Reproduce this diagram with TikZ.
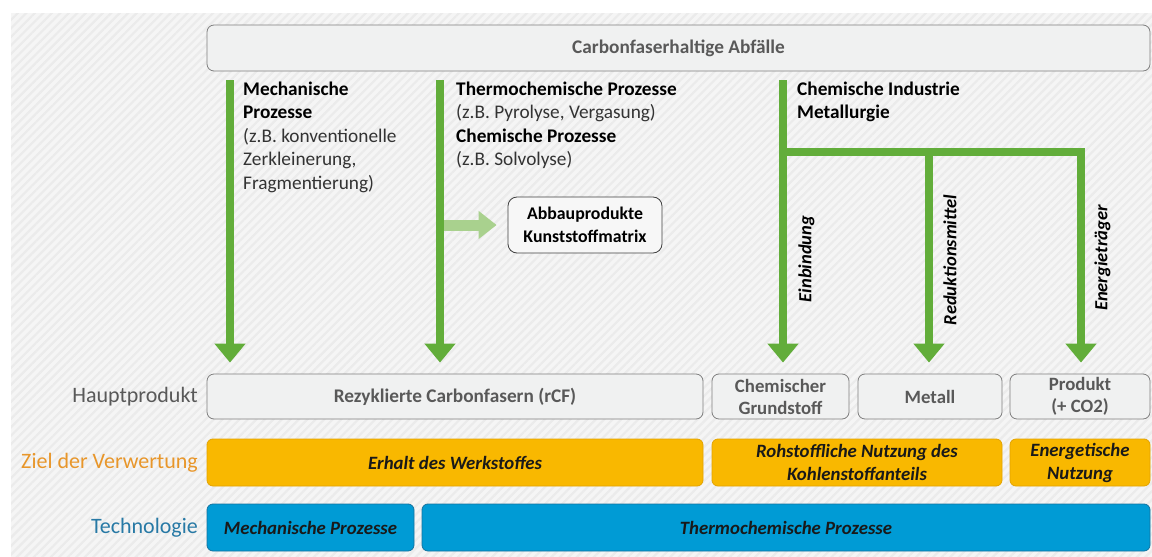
\documentclass[tikz,border=0pt]{standalone}
\usepackage{fontspec}
\setmainfont{Carlito}
\usetikzlibrary{arrows.meta,patterns.meta}
\definecolor{gruen}{HTML}{62AD3A}
\definecolor{hellgruen}{HTML}{A9D18E}
\definecolor{boxgrau}{HTML}{F0F1F1}
\definecolor{randgrau}{HTML}{7F7F7F}
\definecolor{textgrau}{HTML}{595959}
\definecolor{gelb}{HTML}{F9B800}
\definecolor{gelbrand}{HTML}{E3A300}
\definecolor{zielorange}{HTML}{E8962A}
\definecolor{blau}{HTML}{009BD5}
\definecolor{blaurand}{HTML}{14739F}
\definecolor{techblau}{HTML}{2779A5}

\begin{document}
\begin{tikzpicture}[x=1pt,y=-1pt,
	pfeil/.style={line width=8pt,gruen,-{Triangle[length=19pt,width=30pt]}},
	hellpfeil/.style={line width=11pt,hellgruen,-{Triangle[length=18pt,width=27pt]}},
	grauebox/.style={draw=randgrau,fill=boxgrau,rounded corners=7pt,line width=0.8pt,inner sep=0pt,
		text=textgrau,align=center,font=\fontsize{18.8}{22}\selectfont\bfseries},
	gelbebox/.style={draw=gelbrand,fill=gelb,rounded corners=6pt,line width=0.8pt,inner sep=0pt,
		text=black!90,align=center,font=\fontsize{18.8}{23}\selectfont\bfseries\itshape},
	blauebox/.style={draw=blaurand,fill=blau,rounded corners=6pt,line width=0.8pt,inner sep=0pt,
		text=black!90,font=\fontsize{18.8}{23}\selectfont\bfseries\itshape},
	zeile/.style={anchor=east,inner sep=0pt,font=\fontsize{22}{26}\selectfont},
	prozess/.style={anchor=base west,inner sep=0pt,align=left,text=black!80,
		font=\fontsize{19.3}{23.5}\selectfont},
	drehtext/.style={rotate=90,inner sep=0pt,font=\fontsize{18.5}{22}\selectfont\bfseries\itshape}]
	\useasboundingbox (0,0) rectangle (1152,557);
	
	%background
	\fill[black!4] (11,13) rectangle (1152,557);
	\fill[pattern={Lines[angle=45,distance=6pt,line width=2.2pt]},pattern color=black!8] (11,13) rectangle (1152,557);
	
	%top box
	\node[grauebox,minimum width=943pt,minimum height=46pt,font=\fontsize{19.3}{22}\selectfont\bfseries] (abfall) at (678.5,48) {Carbonfaserhaltige Abfälle};
	
	%products
	\node[grauebox,minimum width=496pt,minimum height=45pt,font=\fontsize{19.3}{22}\selectfont\bfseries] (rcf) at (455,396.5) {Rezyklierte Carbonfasern (rCF)};
	\node[grauebox,minimum width=137pt,minimum height=45pt] (chem) at (780.5,396.5) {Chemischer\\Grundstoff};
	\node[grauebox,minimum width=144pt,minimum height=45pt] (metall) at (930,396.5) {Metall};
	\node[grauebox,minimum width=140pt,minimum height=45pt] (produkt) at (1080,396.5) {Produkt\\(+ CO2)};
	
	%goals
	\node[gelbebox,minimum width=496pt,minimum height=47pt] (erhalt) at (455,462.5) {Erhalt des Werkstoffes};
	\node[gelbebox,minimum width=290pt,minimum height=47pt] (rohstoff) at (857,462.5) {Rohstoffliche Nutzung des\\Kohlenstoffanteils};
	\node[gelbebox,minimum width=140pt,minimum height=47pt] (energie) at (1080,462.5) {Energetische\\Nutzung};
	
	%technology
	\node[blauebox,minimum width=207pt,minimum height=47pt] (mech) at (310.5,527.5) {Mechanische Prozesse};
	\node[blauebox,minimum width=728pt,minimum height=47pt] (thermo) at (786,527.5) {Thermochemische Prozesse};
	
	%row labels
	\node[zeile,text=textgrau] (lhaupt) at (198,396.5) {Hauptprodukt};
	\node[zeile,text=zielorange] (lziel) at (198,462.5) {Ziel der Verwertung};
	\node[zeile,text=techblau] (ltech) at (198,527.5) {Technologie};
	
	%process texts (anchored at the last baseline)
	\node[prozess] (tmech) at (243,189) {\textbf{\color{black}Mechanische}\\\textbf{\color{black}Prozesse}\\(z.B. konventionelle\\Zerkleinerung,\\Fragmentierung)};
	\node[prozess] (tthermo) at (456,165.5) {\textbf{\color{black}Thermochemische Prozesse}\\(z.B. Pyrolyse, Vergasung)\\\textbf{\color{black}Chemische Prozesse}\\(z.B. Solvolyse)};
	\node[prozess,text=black,font=\fontsize{19.3}{23.5}\selectfont\bfseries] (tchem) at (797,118.5) {Chemische Industrie\\Metallurgie};
	
	%side product
	\node[draw=black!75,fill=black!3,rounded corners=9pt,line width=0.8pt,minimum width=154pt,minimum height=56pt,
		inner sep=0pt,align=center,font=\fontsize{17.8}{23}\selectfont\bfseries] (abbau) at (585,225) {Abbauprodukte\\Kunststoffmatrix};
	
	%x positions of the arrows
	\coordinate (xm) at (230,0);
	\coordinate (xt) at (440,0);
	\coordinate (xc) at (783,0);
	\coordinate (xr) at (929,0);
	\coordinate (xe) at (1081,0);
	\coordinate (yb) at (0,152);
	
	%arrows
	\draw[hellpfeil,shorten <=4pt,shorten >=11pt] (xt |- abbau.west) -- (abbau.west);
	\draw[pfeil,shorten <=9pt,shorten >=11pt] (abfall.south -| xm) -- (rcf.north -| xm);
	\draw[pfeil,shorten <=9pt,shorten >=11pt] (abfall.south -| xt) -- (rcf.north -| xt);
	\draw[pfeil,shorten <=9pt,shorten >=11pt] (abfall.south -| xc) -- (chem.north -| xc);
	\draw[pfeil,shorten >=11pt] (xc |- yb) -| (produkt.north -| xe);
	\draw[pfeil,shorten >=11pt] (xr |- yb) -- (metall.north -| xr);
	
	%arrow labels
	\node[drehtext] (einb) at (806.5,259) {Einbindung};
	\node[drehtext] (redu) at (950,260) {Reduktionsmittel};
	\node[drehtext] (entr) at (1102.5,258) {Energieträger};
\end{tikzpicture}
\end{document}
